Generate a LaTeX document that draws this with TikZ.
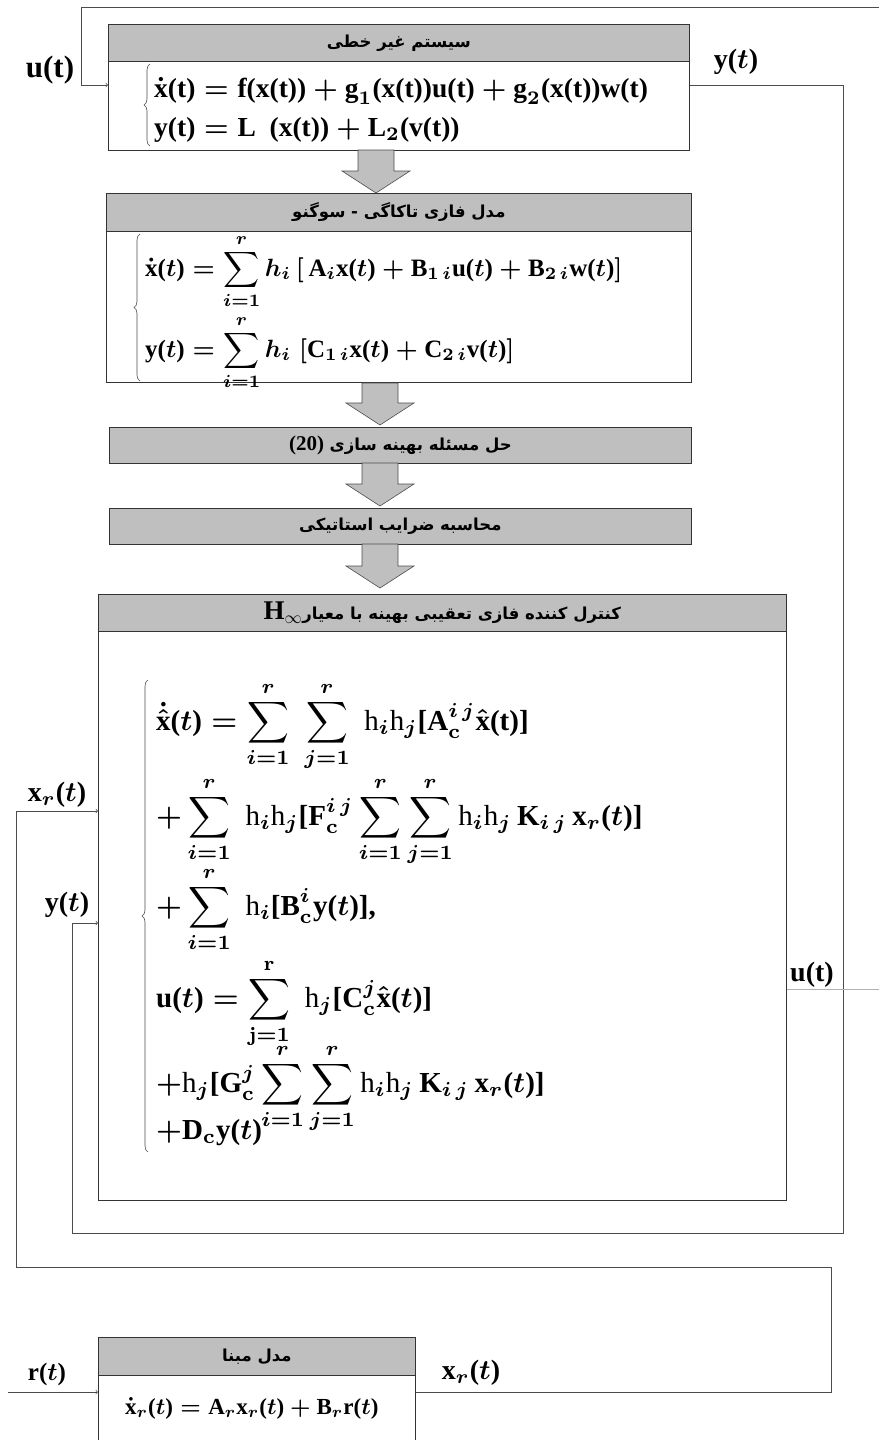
\documentclass[tikz,border=0pt]{standalone}
\usepackage{fontspec}
\setmainfont{Liberation Serif}
\newfontfamily\persianfont[Script=Arabic]{DejaVu Sans}
\TeXXeTstate=1
\usetikzlibrary{decorations.pathreplacing}
\newcommand{\tpar}{\textbf{(}\ensuremath{t}\textbf{)}}

\begin{document}
\begin{tikzpicture}[x=1pt,y=-1pt,
    titlebox/.style={draw=black!80, fill=black!25, line width=0.7pt, anchor=north west, inner sep=0pt,
        font=\persianfont\bfseries\fontsize{16.5}{19}\selectfont},
    bodybox/.style={draw=black!80, line width=0.7pt, anchor=north west, inner sep=0pt},
    eqline/.style={anchor=base west, inner sep=0pt, font=\boldmath},
    siglabel/.style={inner sep=0pt, font=\boldmath\bfseries},
    wire/.style={draw=black!70, line width=0.7pt},
    fatarrow/.style={draw=black!70, fill=black!25, line width=0.6pt},
    curly/.style={draw=black!70, line width=0.6pt, decorate, decoration={brace, amplitude=6pt}}]

    \useasboundingbox (0,0) rectangle (879,1440);

    % Nonlinear system
    \node[titlebox, minimum width=581pt, minimum height=37pt] (systitle) at (108,24)
        {\beginR سیستم غیر خطی\endR};
    \node[bodybox, minimum width=581pt, minimum height=89pt] (sysbody) at (108,61) {};
    \draw[curly] (150,146) -- (150,64);
    \node[eqline] (syseqa) at (154,97)
        {\scalebox{2.75}{$\dot{\textbf{x}}\textbf{(t)} = \textbf{f(x(t))} + \textbf{g}_1\textbf{(x(t))u(t)} + \textbf{g}_2\textbf{(x(t))w(t)}$}};
    \node[eqline] (syseqb) at (154,136)
        {\scalebox{2.75}{$\textbf{y(t)} = \textbf{L\ \ (x(t))} + \textbf{L}_2\textbf{(v(t))}$}};

    % T-S fuzzy model
    \node[titlebox, minimum width=585pt, minimum height=38pt] (tstitle) at (106,193)
        {\beginR مدل فازی تاکاگی - سوگنو\endR};
    \node[bodybox, minimum width=585pt, minimum height=151pt] (tsbody) at (106,231) {};
    \draw[curly] (140,381) -- (140,234);
    \node[eqline] (tseqa) at (145,276)
        {\scalebox{2.5}{$\displaystyle \dot{\textbf{x}}\tpar = \sum_{i=\mathbf{1}}^{r} h_i\,[\,\textbf{A}_i\textbf{x}\tpar + \textbf{B}_{1\,i}\textbf{u}\tpar + \textbf{B}_{2\,i}\textbf{w}\tpar]$}};
    \node[eqline] (tseqb) at (145,357)
        {\scalebox{2.5}{$\displaystyle \textbf{y}\tpar = \sum_{i=1}^{r} h_i\;[\textbf{C}_{1\,i}\textbf{x}\tpar + \textbf{C}_{2\,i}\textbf{v}\tpar]$}};

    % Optimisation and static gains
    \node[titlebox, minimum width=582pt, minimum height=36pt] (opt) at (109,427)
        {\beginR حل مسئله بهینه سازی {\rmfamily\bfseries\fontsize{21}{23}\selectfont\beginL(20)\endL}\endR};
    \node[titlebox, minimum width=582pt, minimum height=36pt] (gains) at (109,508)
        {\beginR محاسبه ضرایب استاتیکی\endR};

    % Big arrows between the blocks
    \foreach \cx/\ty/\by in {376/150/193, 380/383/425, 380/463/506, 380/544/588}
        \draw[fatarrow] (\cx-18,\ty) -- (\cx+18,\ty) -- (\cx+18,\by-22) -- (\cx+34,\by-22)
            -- (\cx,\by) -- (\cx-34,\by-22) -- (\cx-18,\by-22) -- cycle;

    % Tracking controller
    \node[titlebox, minimum width=688pt, minimum height=37pt] (ctrltitle) at (98,594)
        {\beginR کنترل کننده فازی تعقیبی بهینه با معیار\beginL{\rmfamily\bfseries\fontsize{27}{29}\selectfont H$_{\infty}$}\endL\endR};
    \node[bodybox, minimum width=688pt, minimum height=569pt] (ctrlbody) at (98,631) {};
    \draw[curly] (148,1152) -- (148,680);
    \node[eqline] (ctrleqa) at (156,730)
        {\scalebox{2.9}{$\displaystyle \dot{\hat{\textbf{x}}}\tpar = \sum_{i=1}^{r}\;\sum_{j=1}^{r}\;\textrm{h}_i\textrm{h}_j\textbf{[A}_{\mathbf{c}}^{i\,j}\hat{\textbf{x}}\textbf{(t)]}$}};
    \node[eqline] (ctrleqb) at (156,825)
        {\scalebox{2.9}{$\displaystyle +\sum_{i=1}^{r}\;\textrm{h}_i\textrm{h}_j\textbf{[F}_{\mathbf{c}}^{i\,j}\sum_{i=1}^{r}\sum_{j=1}^{r}\textrm{h}_i\textrm{h}_j\,\textbf{K}_{i\,j}\,\textbf{x}_r\tpar\textbf{]}$}};
    \node[eqline] (ctrleqc) at (156,915)
        {\scalebox{2.9}{$\displaystyle +\sum_{i=1}^{r}\;\textrm{h}_i\textbf{[B}_{\mathbf{c}}^{i}\textbf{y}\tpar\textbf{],}$}};
    \node[eqline] (ctrleqd) at (156,1007)
        {\scalebox{2.9}{$\displaystyle \textbf{u}\tpar = \sum_{\mathbf{j=1}}^{\mathbf{r}}\;\textrm{h}_j\textbf{[C}_{\mathbf{c}}^{j}\hat{\textbf{x}}\tpar\textbf{]}$}};
    \node[eqline] (ctrleqe) at (156,1092)
        {\scalebox{2.9}{$\displaystyle +\textrm{h}_j\textbf{[G}_{\mathbf{c}}^{j}\sum_{i=1}^{r}\sum_{j=1}^{r}\textrm{h}_i\textrm{h}_j\,\textbf{K}_{i\,j}\,\textbf{x}_r\tpar\textbf{]}$}};
    \node[eqline] (ctrleqf) at (156,1139)
        {\scalebox{2.9}{$\displaystyle +\textbf{D}_{\mathbf{c}}\textbf{y}\tpar$}};

    % Reference model
    \node[titlebox, minimum width=317pt, minimum height=38pt] (reftitle) at (98,1337)
        {\beginR مدل مبنا\endR};
    \node[bodybox, minimum width=317pt, minimum height=90pt] (refbody) at (98,1375) {};
    \node[eqline] (refeq) at (125,1414)
        {\scalebox{2.3}{$\dot{\textbf{x}}_r\tpar = \textbf{A}_r\textbf{x}_r\tpar + \textbf{B}_r\textbf{r}\tpar$}};

    % Signal levels
    \coordinate (ulev) at (0,85);
    \coordinate (ylev) at (0,923);
    \coordinate (xrlev) at (0,811);
    \coordinate (uoutlev) at (0,989);
    \coordinate (reflev) at (0,1392);
    \coordinate (utop) at (879,7);
    \coordinate (uend) at (879,989);
    \coordinate (rin) at (8,1392);

    % Connections
    \draw[wire, ->] (utop) -| (81,85) -- (sysbody.west |- ulev);
    \draw[wire, ->] (sysbody.east |- ulev) -| (843,1233) -| (72,923) -- (ctrlbody.west |- ylev);
    \draw[wire, draw=black!30] (ctrlbody.east |- uoutlev) -- (uend);
    \draw[wire, ->] (refbody.east |- reflev) -| (831,1267) -| (16,811) -- (ctrlbody.west |- xrlev);
    \draw[wire, ->] (rin) -- (refbody.west |- reflev);

    % Signal names
    \node[siglabel] (ulabel) at (50,70) {\scalebox{3.1}{u(t)}};
    \node[siglabel] (ylabel) at (736,62) {\scalebox{2.8}{y\tpar}};
    \node[siglabel] (uoutlabel) at (812,975) {\scalebox{2.8}{u(t)}};
    \node[siglabel] (xrlabel) at (57,795) {\scalebox{2.8}{x$_r$\tpar}};
    \node[siglabel] (yinlabel) at (67,905) {\scalebox{2.8}{y\tpar}};
    \node[siglabel] (rlabel) at (47,1374) {\scalebox{2.5}{r\tpar}};
    \node[siglabel] (xroutlabel) at (471,1373) {\scalebox{2.8}{x$_r$\tpar}};
\end{tikzpicture}
\end{document}
